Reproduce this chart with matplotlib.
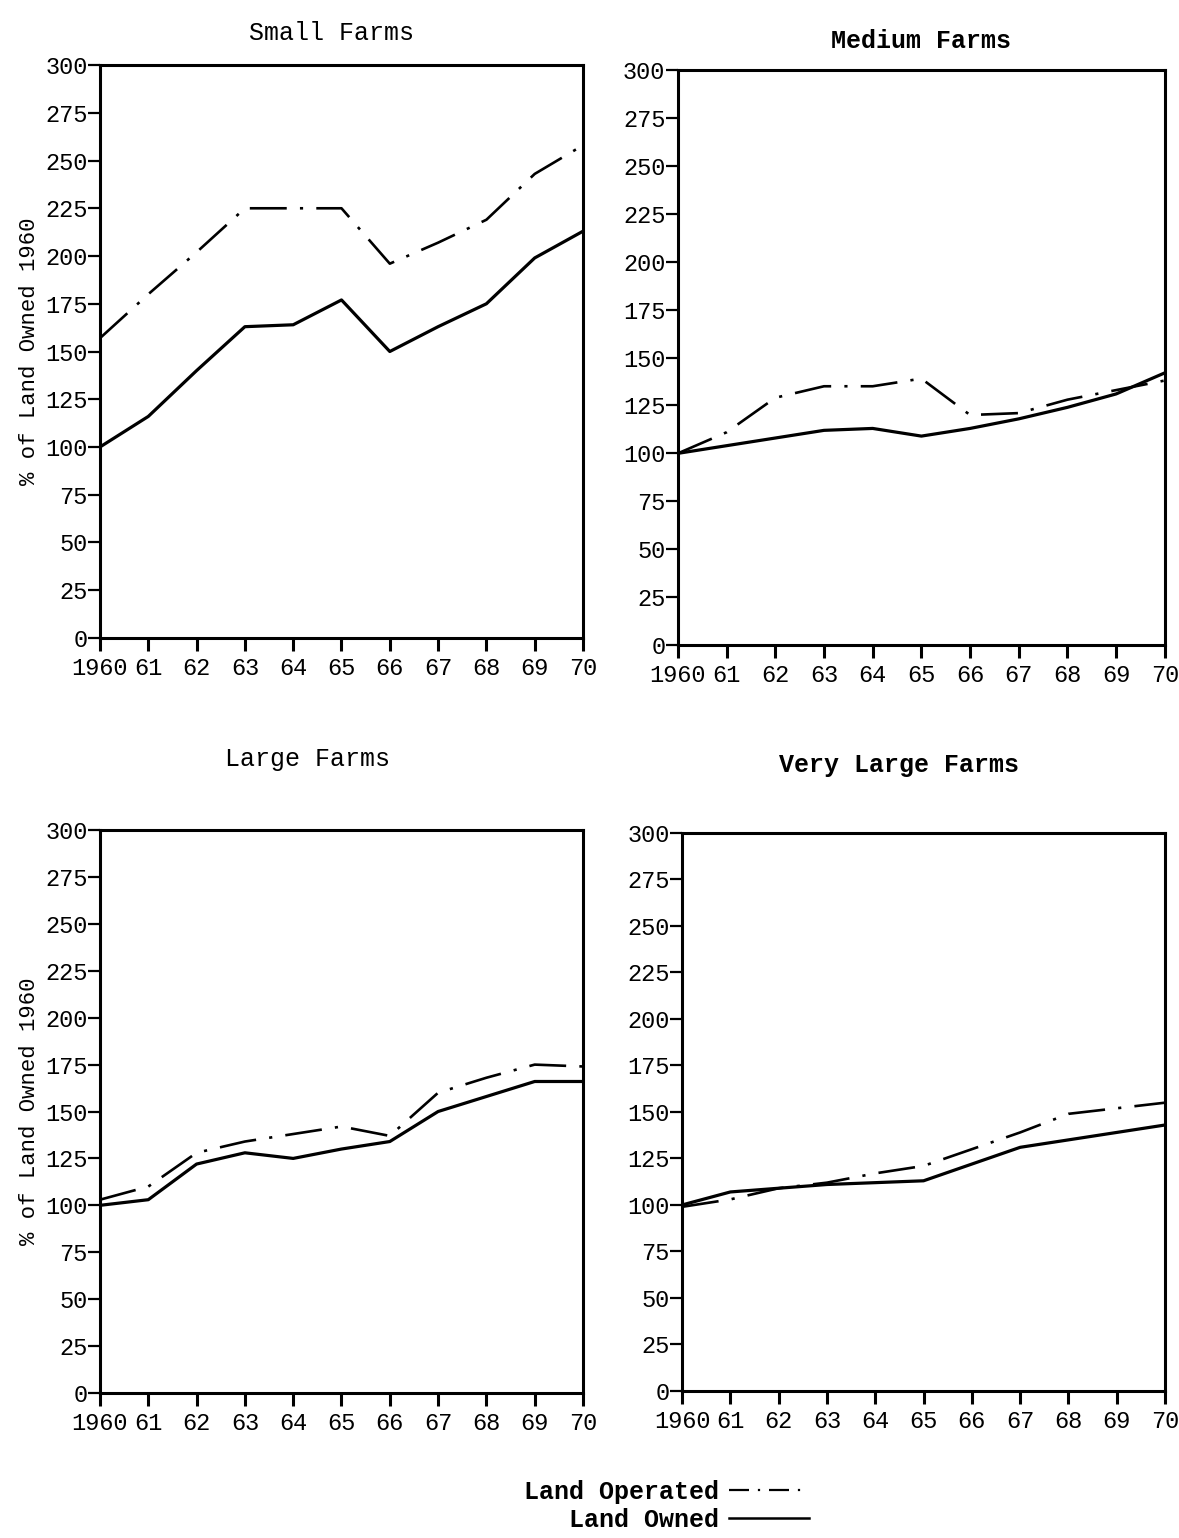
import numpy as np
import matplotlib
matplotlib.use('agg')
import matplotlib.pyplot as plt
from matplotlib.lines import Line2D

# data (% of land owned in 1960)
years = [1960, 1961, 1962, 1963, 1964, 1965, 1966, 1967, 1968, 1969, 1970]
year_labels = ['1960', '61', '62', '63', '64', '65', '66', '67', '68', '69', '70']

small_owned = [100, 116, 140, 163, 164, 177, 150, 163, 175, 199, 213]
small_operated = [157, 180, 202, 225, 225, 225, 196, 207, 219, 243, 258]

medium_owned = [100, 104, 108, 112, 113, 109, 113, 118, 124, 131, 142]
medium_operated = [100, 111, 129, 135, 135, 139, 120, 121, 128, 133, 138]

large_owned = [100, 103, 122, 128, 125, 130, 134, 150, 158, 166, 166]
large_operated = [103, 110, 128, 134, 138, 142, 137, 160, 168, 175, 174]

vlarge_owned = [100, 107, 109, 111, 112, 113, 122, 131, 135, 139, 143]
vlarge_operated = [99, 103, 109, 112, 117, 121, 130, 139, 149, 152, 155]

titles = ['Small Farms', 'Medium Farms', 'Large Farms', 'Very Large Farms']
y_ticks = list(range(0, 301, 25))

plt.rcParams['font.family'] = ['Liberation Mono', 'DejaVu Sans Mono']

fig = plt.figure(figsize=(11.79, 15.38), dpi=100)

# [left, bottom, width, height], title pad, title x
layout = [
    ([0.0848, 0.5852, 0.4097, 0.3725], 18, 0.48),
    ([0.5750, 0.5806, 0.4130, 0.3739], 16, 0.50),
    ([0.0848, 0.0943, 0.4097, 0.3660], 46, 0.43),
    ([0.5785, 0.0956, 0.4097, 0.3628], 44, 0.45),
]
series = [
    (small_owned, small_operated),
    (medium_owned, medium_operated),
    (large_owned, large_operated),
    (vlarge_owned, vlarge_operated),
]
dashdot = (0, (14, 5, 1.2, 5))

for i, ((rect, pad, tx), (owned, operated)) in enumerate(zip(layout, series)):
    ax = fig.add_axes(rect)
    ax.plot(years, operated, color='black', lw=1.9, linestyle=dashdot)
    ax.plot(years, owned, color='black', lw=2.3, linestyle='-')
    ax.set_xlim(1960, 1970)
    ax.set_ylim(0, 300)
    ax.set_yticks(y_ticks)
    ax.set_yticklabels([str(v) for v in y_ticks], fontsize=17)
    ax.set_xticks(years)
    ax.set_xticklabels(year_labels, fontsize=17)
    ax.tick_params(axis='y', direction='out', length=9, width=1.6, pad=0)
    ax.tick_params(axis='x', direction='out', length=9, width=2.2, pad=5)
    for s in ax.spines.values():
        s.set_linewidth(2.2)
    ax.set_title(titles[i], fontsize=18, pad=pad, x=tx, fontweight='bold' if i % 2 else 'normal')
    if i % 2 == 0:
        ax.set_ylabel('% of Land Owned 1960', fontsize=16, labelpad=4)

handles = [
    Line2D([], [], color='black', lw=1.6, linestyle=(0, (9, 4, 1, 4))),
    Line2D([], [], color='black', lw=1.8),
]
fig.legend(handles, ['Land Operated', 'Land Owned'], loc='center',
           bbox_to_anchor=(0.565, 0.021), frameon=False, markerfirst=False,
           handlelength=3.2, handletextpad=0.4, labelspacing=0.15,
           prop={'family': 'Liberation Mono', 'size': 18, 'weight': 'bold'})

plt.savefig('out.png', dpi=100)
